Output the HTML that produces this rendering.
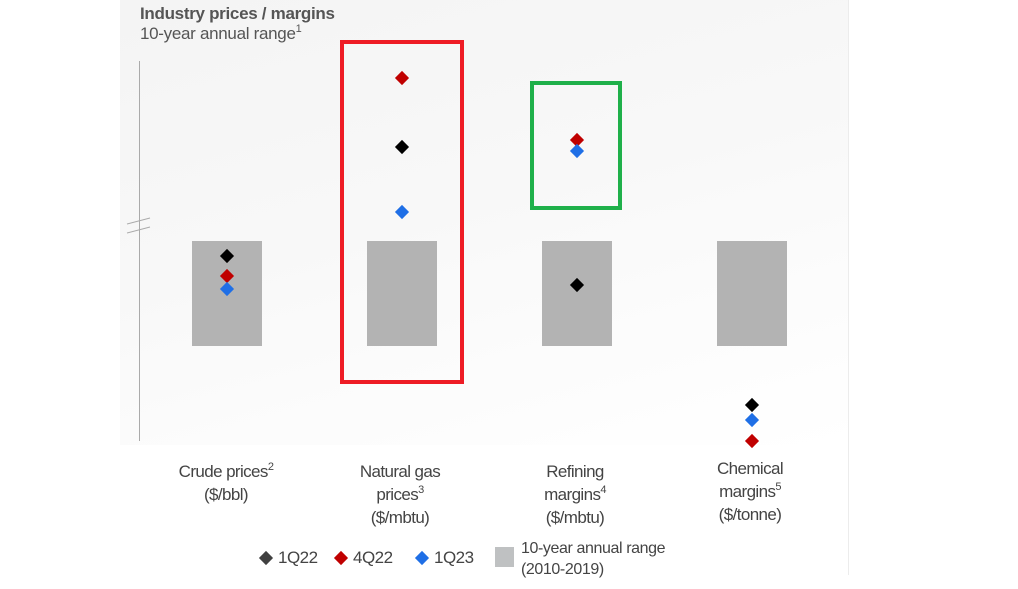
<!DOCTYPE html>
<html><head><meta charset="utf-8"><style>
body{margin:0;width:1018px;height:589px;background:#fff;position:relative;overflow:hidden;font-family:"Liberation Sans",sans-serif;color:#444}
.a{position:absolute}
.bar{position:absolute;background:#b3b3b3;width:70px;top:241px;height:105px}
.d{position:absolute;width:10px;height:10px;transform:rotate(45deg)}
.k{background:#000}.r{background:#c00000}.b{background:#1f6fe6}
.lab{position:absolute;width:160px;text-align:center;font-size:17px;line-height:23px;color:#444;letter-spacing:-0.6px}
sup{font-size:11px;vertical-align:7px;line-height:0}
</style></head><body>
<div class="a" style="left:120px;top:0;width:728px;height:445px;background:linear-gradient(165deg,#f4f4f4 0%,#f8f8f8 45%,#fcfcfc 75%,#fff 100%)"></div>
<div class="a" style="left:848px;top:0;width:1px;height:575px;background:#ececec"></div>
<div class="a" style="left:140px;top:4px;font-size:17px;font-weight:bold;color:#555;letter-spacing:-0.3px">Industry prices / margins</div>
<div class="a" style="left:140px;top:24px;font-size:17px;color:#555;letter-spacing:-0.3px">10-year annual range<sup>1</sup></div>
<div class="a" style="left:139px;top:61px;width:1px;height:380px;background:#aaa"></div>
<svg class="a" style="left:125px;top:212px" width="30" height="26"><line x1="2" y1="12" x2="25" y2="6" stroke="#aaa"/><line x1="2" y1="21" x2="25" y2="15" stroke="#aaa"/></svg>
<div class="bar" style="left:192px"></div>
<div class="bar" style="left:367px"></div>
<div class="bar" style="left:542px"></div>
<div class="bar" style="left:717px"></div>
<div class="a" style="left:340px;top:40px;width:116px;height:336px;border:4px solid #ee1c25"></div>
<div class="a" style="left:530px;top:81px;width:84px;height:121px;border:4px solid #1fb04a"></div>
<div class="d k" style="left:222px;top:251px"></div>
<div class="d r" style="left:222px;top:271px"></div>
<div class="d b" style="left:222px;top:284px"></div>
<div class="d r" style="left:397px;top:73px"></div>
<div class="d k" style="left:397px;top:142px"></div>
<div class="d b" style="left:397px;top:207px"></div>
<div class="d r" style="left:572px;top:135px"></div>
<div class="d b" style="left:572px;top:146px"></div>
<div class="d k" style="left:572px;top:280px"></div>
<div class="d k" style="left:747px;top:400px"></div>
<div class="d b" style="left:747px;top:415px"></div>
<div class="d r" style="left:747px;top:436px"></div>
<div class="lab" style="left:146px;top:460px">Crude prices<sup>2</sup><br>($/bbl)</div>
<div class="lab" style="left:320px;top:460px">Natural gas<br>prices<sup>3</sup><br>($/mbtu)</div>
<div class="lab" style="left:495px;top:460px">Refining<br>margins<sup>4</sup><br>($/mbtu)</div>
<div class="lab" style="left:670px;top:457px">Chemical<br>margins<sup>5</sup><br>($/tonne)</div>
<div class="d" style="left:261px;top:553px;background:#404040"></div>
<div class="a" style="left:278px;top:548px;font-size:17px;letter-spacing:-0.5px">1Q22</div>
<div class="d r" style="left:336px;top:553px"></div>
<div class="a" style="left:353px;top:548px;font-size:17px;letter-spacing:-0.5px">4Q22</div>
<div class="d b" style="left:417px;top:553px"></div>
<div class="a" style="left:434px;top:548px;font-size:17px;letter-spacing:-0.5px">1Q23</div>
<div class="a" style="left:495px;top:547px;width:19px;height:20px;background:#bfc1c2"></div>
<div class="a" style="left:521px;top:538px;font-size:16px;line-height:21px;letter-spacing:-0.4px">10-year annual range<br>(2010-2019)</div>
</body></html>
